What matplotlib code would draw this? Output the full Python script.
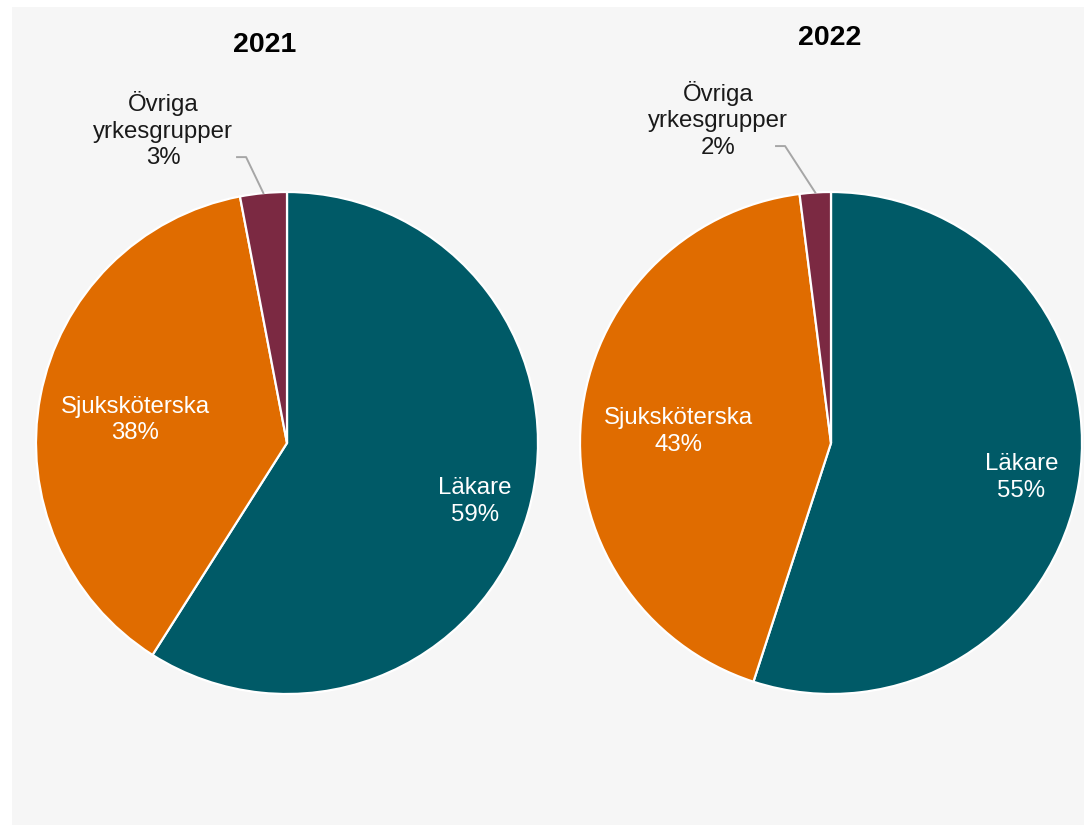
import matplotlib
matplotlib.use("Agg")
import matplotlib.pyplot as plt
from matplotlib.patches import Rectangle
import numpy as np

plt.rcParams['font.family'] = ['Liberation Sans', 'DejaVu Sans']

years = ["2021", "2022"]
categories = ["Läkare", "Sjuksköterska", "Övriga\nyrkesgrupper"]
values_2021 = [59, 38, 3]
values_2022 = [55, 43, 2]
colors = ["#005a67", "#e06c00", "#7b2942"]

W, H = 1084, 825
fig = plt.figure(figsize=(W / 100, H / 100), dpi=100, facecolor="white")
fig.patches.append(Rectangle((12 / W, 0), 1 - 12 / W, 1 - 7 / H,
                             transform=fig.transFigure, facecolor="#f6f6f6",
                             edgecolor="none", zorder=-10))

R = 251
centers = [(287, 443), (831, 443)]
inner_dist = [[0.78, 0.615], [0.768, 0.61]]
inner_dy_px = [[-4, -6], [-4, -3]]
outer_label = [(-0.494, 1.247), (-0.45, 1.287)]
leader_start = [(-0.199, 1.139), (-0.219, 1.183)]
title_pos = [(265, 45), (830, 38)]

for i, vals in enumerate([values_2021, values_2022]):
    cx, cy = centers[i]
    ax = fig.add_axes([(cx - R) / W, (H - cy - R) / H, 2 * R / W, 2 * R / H])
    wedges, _ = ax.pie(vals, colors=colors, startangle=90, counterclock=False,
                       radius=1.0, wedgeprops=dict(edgecolor="white", linewidth=1.6))
    ax.set_xlim(-1, 1)
    ax.set_ylim(-1, 1)
    ax.set_aspect("auto")
    ax.axis("off")
    for j, w in enumerate(wedges):
        ang = np.deg2rad((w.theta1 + w.theta2) / 2)
        lab = f"{categories[j]}\n{vals[j]}%"
        if j < 2:
            d = inner_dist[i][j]
            ax.text(d * np.cos(ang), d * np.sin(ang) + inner_dy_px[i][j] / R, lab,
                    color="white", fontsize=17.3, ha="center", va="center",
                    linespacing=1.28)
        else:
            lx, ly = outer_label[i]
            ax.text(lx, ly, lab, color="#1a1a1a", fontsize=17.3, ha="center",
                    va="center", linespacing=1.27, clip_on=False)
            sx, sy = leader_start[i]
            ex, ey = np.cos(ang), np.sin(ang)
            ax.plot([sx, sx + 0.036, ex], [sy, sy, ey], color="#a6a6a6",
                    linewidth=1.4, clip_on=False)
    tx, ty = title_pos[i]
    fig.text(tx / W, 1 - ty / H, years[i], fontsize=20.5, fontweight="bold",
             ha="center", va="center", color="black")

fig.savefig("out.png", dpi=100, facecolor=fig.get_facecolor())
